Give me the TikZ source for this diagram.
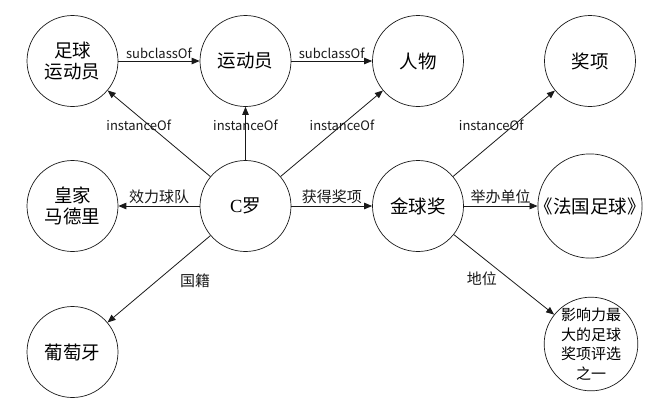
\documentclass[tikz,border=0pt]{standalone}
\usepackage{fontspec}
\setmainfont{Noto Sans CJK SC}
\newfontfamily\latinserif{Liberation Serif}
\usepackage{tikz}
\usetikzlibrary{arrows.meta, positioning}
\definecolor{inkline}{RGB}{25,25,25}

\begin{document}
\begin{tikzpicture}[x=1pt, y=-1pt,
  ent/.style={circle, draw=inkline, line width=0.7pt, minimum size=91pt, inner sep=0pt,
    align=center, font=\fontsize{18.5}{21}\selectfont},
  rel/.style={draw=inkline, line width=0.8pt, -{Triangle[length=8pt, width=6.5pt]}},
  lbl/.style={font=\fontsize{13}{15}\selectfont, inner sep=1.5pt, text=inkline},
  cjklbl/.style={lbl, font=\fontsize{15}{17}\selectfont}]
  \useasboundingbox (0,0) rectangle (660,408);

  % top row: classes
  \node[ent] (footballer) at (72.5,61) {足球\\运动员};
  \node[ent] (athlete) at (245.5,61) {运动员};
  \node[ent] (person) at (418,61) {人物};
  \node[ent] (award) at (590,61) {奖项};

  % middle row
  \node[ent] (realmadrid) at (72.5,206) {皇家\\马德里};
  \node[ent] (cr) at (245.5,206) {{\latinserif C}罗};
  \node[ent] (ballondor) at (418,206) {金球奖};
  \node[ent] (francefoot) at (590,206) {\hspace{-4pt}《法国足球》\hspace{-4pt}};

  % bottom row
  \node[ent] (portugal) at (72.5,352) {葡萄牙};
  \node[ent, font=\fontsize{15}{19.5}\selectfont] (status) at (591,344) {影响力最\\大的足球\\奖项评选\\之一};

  % relations
  \draw[rel] (footballer) -- node[lbl, above] {subclassOf} (athlete);
  \draw[rel] (athlete) -- node[lbl, above] {subclassOf} (person);
  \draw[rel] (cr) -- node[lbl, pos=0.6, xshift=-10pt] {instanceOf} (footballer);
  \draw[rel] (cr) -- node[lbl, pos=0.66] {instanceOf} (athlete);
  \draw[rel] (cr) -- node[lbl, pos=0.6] {instanceOf} (person);
  \draw[rel] (ballondor) -- node[lbl, pos=0.6, xshift=-23pt] {instanceOf} (award);
  \draw[rel] (cr) -- node[cjklbl, above] {效力球队} (realmadrid);
  \draw[rel] (cr) -- node[cjklbl, above] {获得奖项} (ballondor);
  \draw[rel] (ballondor) -- node[cjklbl, above] {举办单位} (francefoot);
  \draw[rel] (cr) -- node[cjklbl, pos=0.5, xshift=36pt, yshift=-2pt] {国籍} (portugal);
  \draw[rel] (ballondor) -- node[cjklbl, pos=0.5, xshift=-22pt, yshift=-4pt] {地位} (status);
\end{tikzpicture}
\end{document}
